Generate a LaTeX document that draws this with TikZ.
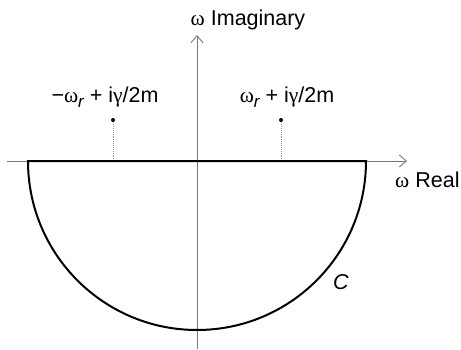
\documentclass[tikz,border=0pt]{standalone}
\usepackage{fontspec}
\setmainfont{Liberation Sans}
\newfontfamily\grk{Liberation Serif}
\usetikzlibrary{arrows.meta, positioning}
\definecolor{AxisGray}{RGB}{120,120,120}
\definecolor{PoleGray}{RGB}{150,150,150}
\newcommand{\om}{{\grk ω}}
\newcommand{\subr}{\raisebox{-0.45ex}{\fontsize{17}{18}\selectfont\itshape r}}

\begin{document}
\begin{tikzpicture}[x=1pt,y=1pt,
  axis/.style={AxisGray, line width=0.9pt, -{Straight Barb[length=7pt,width=12pt]}},
  contour/.style={black, line width=2pt},
  pole/.style={circle, fill=black, inner sep=0pt, minimum size=4pt},
  polestem/.style={PoleGray, line width=0.9pt, densely dotted},
  lbl/.style={inner sep=0pt, font=\fontsize{21.5}{24}\selectfont}]
  \path[use as bounding box] (0,0) rectangle (461,349);
  % axes
  \coordinate (reS) at (7,188);
  \coordinate (reE) at (407,188);
  \coordinate (imS) at (197,0);
  \coordinate (imE) at (197,314);
  \draw[axis] (reS) -- (reE);
  \draw[axis] (imS) -- (imE);
  \node[lbl] (imlabel) at (248,329) {\om\ Imaginary};
  \node[lbl, anchor=west] (relabel) at (395,169) {\om\ Real};
  % poles
  \node[pole] (poleL) at (113,229) {};
  \node[pole] (poleR) at (281,229) {};
  \coordinate (footL) at (113,188);
  \coordinate (footR) at (281,188);
  \draw[polestem] (poleL) -- (footL);
  \draw[polestem] (poleR) -- (footR);
  \node[lbl] (labL) at (105,252) {−\om\subr\ + i{\grk γ}/2m};
  \node[lbl] (labR) at (287,252) {\om\subr\ + i{\grk γ}/2m};
  % contour
  \coordinate (cL) at (28,188);
  \coordinate (cR) at (366,188);
  \draw[contour] (cL) -- (cR) arc[start angle=0, end angle=-180, radius=169] -- cycle;
  \node[lbl, font=\fontsize{21.5}{24}\selectfont\itshape] (cname) at (341,67) {C};
\end{tikzpicture}
\end{document}
